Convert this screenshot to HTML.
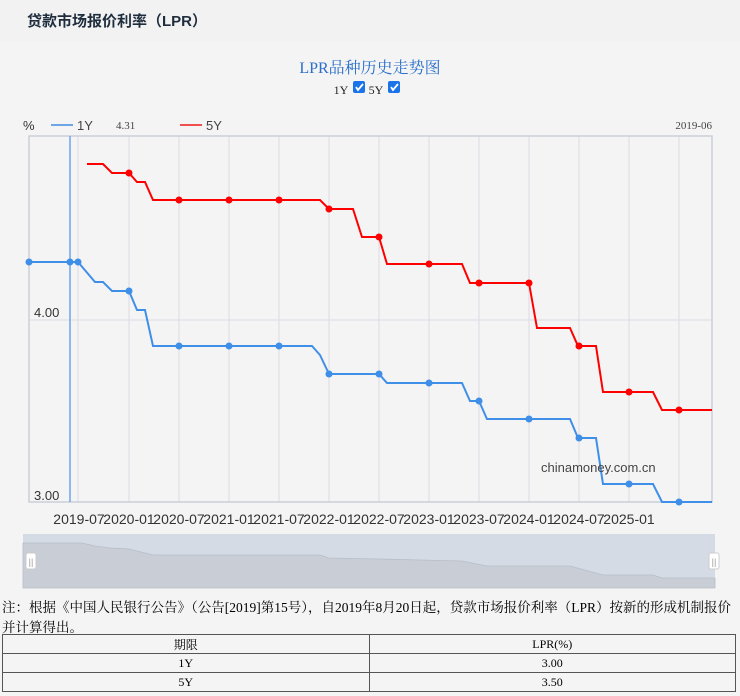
<!DOCTYPE html>
<html><head><meta charset="utf-8"><style>
body{margin:0;width:740px;height:696px;background:#f4f4f4;font-family:"Liberation Serif","Noto Serif CJK SC",serif;overflow:hidden;position:relative}
.hdr{position:absolute;left:0;top:0;width:740px;height:42px;background:#f2f2f3;}
.hdr span{position:absolute;left:27px;top:10px;font:bold 15px "Liberation Sans","Noto Sans CJK SC",sans-serif;color:#1f2d3d}
.note{position:absolute;left:2px;top:598px;font-size:13.5px;line-height:20px;color:#000;width:738px}
table{position:absolute;left:2px;top:634px;width:734px;border-collapse:collapse;font-size:12px}
td{border:1px solid #555;text-align:center;height:18px;padding:0}
</style></head><body>
<div class="hdr"><span>贷款市场报价利率（LPR）</span></div>
<svg width="740" height="596" style="position:absolute;left:0;top:0" font-family="Liberation Sans,sans-serif">
<text x="370" y="73" text-anchor="middle" font-family="Liberation Serif,Noto Serif CJK SC,serif" font-size="16" fill="#2a6fc9">LPR品种历史走势图</text>
<text x="341" y="94" text-anchor="middle" font-family="Liberation Serif,serif" font-size="12" fill="#222">1Y</text>
<rect x="353" y="81" width="12" height="12" rx="2" fill="#1a73e8"/><path d="M356 87l2 3 5-6" stroke="#fff" stroke-width="1.8" fill="none"/>
<text x="376" y="94" text-anchor="middle" font-family="Liberation Serif,serif" font-size="12" fill="#222">5Y</text>
<rect x="388" y="81" width="12" height="12" rx="2" fill="#1a73e8"/><path d="M391 87l2 3 5-6" stroke="#fff" stroke-width="1.8" fill="none"/>
<text x="23" y="130" font-size="13" fill="#333">%</text>
<line x1="51" y1="125" x2="73" y2="125" stroke="#6fa5e8" stroke-width="2"/>
<text x="77" y="130" font-size="13" fill="#444">1Y</text>
<text x="116" y="129" font-family="Liberation Serif,serif" font-size="11" fill="#444">4.31</text>
<line x1="180" y1="125" x2="202" y2="125" stroke="#f05050" stroke-width="2"/>
<text x="206" y="130" font-size="13" fill="#444">5Y</text>
<text x="712" y="129" text-anchor="end" font-family="Liberation Serif,serif" font-size="11" fill="#444">2019-06</text>
<g stroke="#dcdde5" stroke-width="1">
<line x1="78" y1="136" x2="78" y2="502"/><line x1="129" y1="136" x2="129" y2="502"/><line x1="179" y1="136" x2="179" y2="502"/><line x1="229" y1="136" x2="229" y2="502"/><line x1="279" y1="136" x2="279" y2="502"/><line x1="329" y1="136" x2="329" y2="502"/><line x1="379" y1="136" x2="379" y2="502"/><line x1="429" y1="136" x2="429" y2="502"/><line x1="479" y1="136" x2="479" y2="502"/><line x1="529" y1="136" x2="529" y2="502"/><line x1="579" y1="136" x2="579" y2="502"/><line x1="629" y1="136" x2="629" y2="502"/><line x1="679" y1="136" x2="679" y2="502"/>
<line x1="29" y1="320" x2="712" y2="320"/>
</g>
<rect x="29" y="136" width="683" height="366" fill="none" stroke="#ccced8" stroke-width="1.5"/>
<text x="34" y="317" font-size="13" fill="#333">4.00</text>
<text x="34" y="500" font-size="13" fill="#333">3.00</text>
<line x1="70" y1="136" x2="70" y2="502" stroke="#6fa5e8" stroke-width="1.5"/>
<polyline fill="none" stroke="#fe0000" stroke-width="2" points="87,164 103,164 112,173 129,173 137,182 145,182 153,200 320,200 329,209 353,209 362,237 379,237 387,264 462,264 470,283 529,283 537,328 570,328 578,346 596,346 603,392 653,392 662,410 712,410"/>
<g fill="#fe0000"><circle cx="129" cy="173" r="3.5"/><circle cx="179" cy="200" r="3.5"/><circle cx="229" cy="200" r="3.5"/><circle cx="279" cy="200" r="3.5"/><circle cx="329" cy="209" r="3.5"/><circle cx="379" cy="237" r="3.5"/><circle cx="429" cy="264" r="3.5"/><circle cx="479" cy="283" r="3.5"/><circle cx="529" cy="283" r="3.5"/><circle cx="579" cy="346" r="3.5"/><circle cx="629" cy="392" r="3.5"/><circle cx="679" cy="410" r="3.5"/></g>
<polyline fill="none" stroke="#3f8fe8" stroke-width="2" points="29,262 78,262 95,282 103,282 112,291 129,291 137,310 145,310 153,346 312,346 320,355 329,374 379,374 387,383 462,383 470,401 479,401 487,419 570,419 578,438 596,438 603,484 653,484 662,502 712,502"/>
<g fill="#3f8fe8"><circle cx="29" cy="262" r="3.5"/><circle cx="70" cy="262" r="3.5"/><circle cx="78" cy="262" r="3.5"/><circle cx="129" cy="291" r="3.5"/><circle cx="179" cy="346" r="3.5"/><circle cx="229" cy="346" r="3.5"/><circle cx="279" cy="346" r="3.5"/><circle cx="329" cy="374" r="3.5"/><circle cx="379" cy="374" r="3.5"/><circle cx="429" cy="383" r="3.5"/><circle cx="479" cy="401" r="3.5"/><circle cx="529" cy="419" r="3.5"/><circle cx="579" cy="438" r="3.5"/><circle cx="629" cy="484" r="3.5"/><circle cx="679" cy="502" r="3.5"/></g>
<text x="541" y="472" font-size="13" fill="#444">chinamoney.com.cn</text>
<g font-size="14" fill="#333" text-anchor="middle">
<text x="79" y="524">2019-07</text><text x="129" y="524">2020-01</text><text x="179" y="524">2020-07</text><text x="229" y="524">2021-01</text><text x="279" y="524">2021-07</text><text x="329" y="524">2022-01</text><text x="379" y="524">2022-07</text><text x="429" y="524">2023-01</text><text x="479" y="524">2023-07</text><text x="529" y="524">2024-01</text><text x="579" y="524">2024-07</text><text x="629" y="524">2025-01</text>
</g>
<rect x="23" y="534" width="692" height="54" fill="#d5dbe4"/>
<path d="M23 543 L82 543 L95 546 L110 548 L129 549 L153 555 L320 555 L329 558 L379 559 L462 561 L487 566 L570 566 L603 575 L653 575 L662 578 L715 578 L715 588 L23 588Z" fill="#c8cdd6" stroke="#b8bec8" stroke-width="0.8"/>
<rect x="26" y="553" width="10" height="16" rx="2" fill="#fff" stroke="#ccc"/><text x="31" y="565" font-size="9" fill="#999" text-anchor="middle">||</text>
<rect x="709" y="553" width="10" height="16" rx="2" fill="#fff" stroke="#ccc"/><text x="714" y="565" font-size="9" fill="#999" text-anchor="middle">||</text>
</svg>
<div class="note">注：根据《中国人民银行公告》（公告[2019]第15号），自2019年8月20日起，贷款市场报价利率（LPR）按新的形成机制报价并计算得出。</div>
<table>
<tr><td style="width:50%">期限</td><td>LPR(%)</td></tr>
<tr><td>1Y</td><td>3.00</td></tr>
<tr><td>5Y</td><td>3.50</td></tr>
</table>
</body></html>
